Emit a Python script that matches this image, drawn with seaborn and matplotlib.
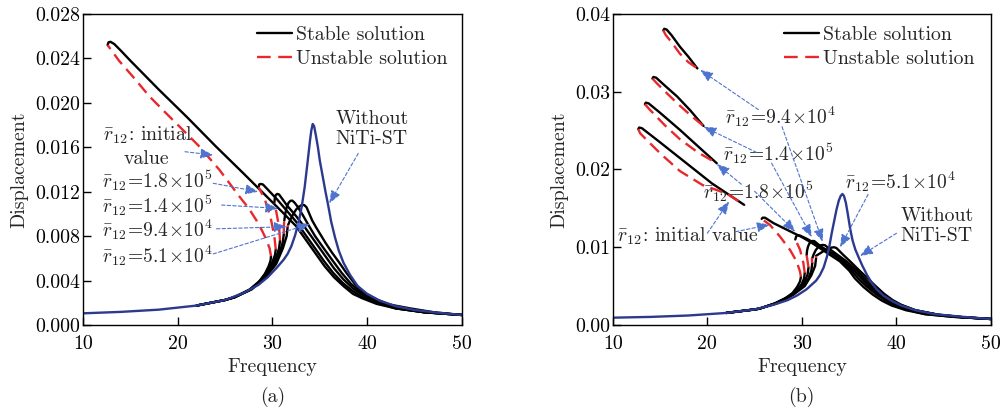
import numpy as np
import matplotlib
matplotlib.use("Agg")
import matplotlib.pyplot as plt
import seaborn as sns

# ---------------- DATA ----------------
# Panel (a)
a_blue_f = [10, 14, 18, 22, 25, 27, 28.5, 29.5, 30.5, 31.2, 31.6, 32.0, 32.4, 32.8, 33.1, 33.4, 33.7, 33.95,
            34.1, 34.25, 34.4, 34.6, 34.8, 35.0, 35.3, 35.6, 35.9, 36.2, 36.6, 37.0, 37.5, 38.2, 39.0,
            40.0, 41.3, 43, 45, 47.5, 50]
a_blue_d = [0.00105, 0.00118, 0.00138, 0.00175, 0.00225, 0.0029, 0.0036, 0.0043, 0.0052, 0.0059, 0.0064,
            0.0071, 0.0081, 0.0094, 0.0107, 0.0124, 0.0146, 0.0165, 0.0175, 0.0181, 0.0179, 0.0170,
            0.0160, 0.0148, 0.0134, 0.0120, 0.0107, 0.0093, 0.0079, 0.0067, 0.0056, 0.0045, 0.0035,
            0.0028, 0.0022, 0.0017, 0.00135, 0.0011, 0.0009]

# stable upper branches (a)
a_init_up_f = [12.6, 12.7, 12.9, 13.3, 14, 15, 18, 21, 24, 27, 29, 31, 32.5, 33.5, 34.5, 35.5, 36.5, 37.5,
               38.5, 39.5, 41, 43, 46, 50]
a_init_up_d = [0.0252, 0.02545, 0.0255, 0.0253, 0.0247, 0.0238, 0.0212, 0.0187, 0.0161, 0.0136, 0.0119,
               0.0102, 0.0089, 0.0077, 0.0065, 0.0053, 0.0043, 0.0035, 0.0028, 0.0024, 0.0019, 0.0015,
               0.00115, 0.0009]
a_18_up_f = [28.55, 28.6, 28.75, 29.0, 29.5, 30.5, 31.5, 32.5, 33.5, 34.5, 35.4, 36.4, 37.4, 38.4, 39.5,
             41, 43, 46, 50]
a_18_up_d = [0.0124, 0.01265, 0.0127, 0.01265, 0.0122, 0.0113, 0.0103, 0.0093, 0.0081, 0.0069, 0.0058,
             0.0047, 0.0038, 0.0031, 0.0025, 0.0020, 0.0015, 0.00115, 0.0009]
a_14_up_f = [30.2, 30.25, 30.35, 30.5, 30.7, 31.0, 31.5, 32.5, 33.5, 34.5, 35.5, 36.5, 37.5, 38.5, 39.5,
             41, 43, 46, 50]
a_14_up_d = [0.0110, 0.0114, 0.0117, 0.0118, 0.01175, 0.0114, 0.0108, 0.0098, 0.0087, 0.0075, 0.0063,
             0.0051, 0.0041, 0.0033, 0.0027, 0.0021, 0.0015, 0.00115, 0.0009]
a_94_up_f = [31.25, 31.35, 31.5, 31.7, 31.9, 32.1, 32.35, 32.7, 33.2, 33.8, 34.5, 35.5, 36.35, 37.3, 38.3,
             39.3, 40.5, 42, 44.5, 47, 50]
a_94_up_d = [0.0094, 0.0100, 0.0106, 0.0110, 0.01118, 0.0112, 0.0110, 0.0106, 0.0099, 0.0090, 0.0080,
             0.0068, 0.0058, 0.0047, 0.0037, 0.0030, 0.0024, 0.0019, 0.0015, 0.00115, 0.0009]
a_51_up_f = [31.65, 31.9, 32.2, 32.5, 32.8, 33.1, 33.35, 33.6, 33.85, 34.2, 34.6, 35.1, 35.6, 36.3, 36.9,
             37.8, 38.7, 39.7, 41, 43, 46, 50]
a_51_up_d = [0.0090, 0.0095, 0.0100, 0.0104, 0.01065, 0.0108, 0.0108, 0.0106, 0.0101, 0.0094, 0.0088,
             0.0081, 0.0074, 0.0065, 0.0058, 0.0047, 0.0037, 0.0029, 0.0023, 0.0016, 0.00115, 0.0009]

# stable lower branches (a)
a_init_lo_f = [22, 25, 26, 27.5, 28.5, 29.2, 29.6, 29.8, 29.85]
a_init_lo_d = [0.00175, 0.00225, 0.0025, 0.0031, 0.0038, 0.0046, 0.0053, 0.0058, 0.0062]
a_18_lo_f = [22, 25, 26, 27.6, 28.7, 29.5, 30.0, 30.27, 30.35]
a_18_lo_d = [0.00175, 0.00225, 0.0025, 0.0032, 0.0040, 0.0049, 0.0057, 0.0063, 0.0068]
a_14_lo_f = [22, 25, 26, 27.7, 28.9, 29.8, 30.4, 30.7, 30.8]
a_14_lo_d = [0.00175, 0.00225, 0.0025, 0.0032, 0.0041, 0.0051, 0.0061, 0.0069, 0.0076]
a_94_lo_f = [22, 25, 26, 27.8, 29.1, 30.1, 30.8, 31.1, 31.2]
a_94_lo_d = [0.00175, 0.00225, 0.0025, 0.0032, 0.0042, 0.0053, 0.0066, 0.0075, 0.0082]
a_51_lo_f = [22, 25, 26, 27.9, 29.3, 30.4, 31.1, 31.5, 31.6]
a_51_lo_d = [0.00175, 0.00225, 0.0025, 0.0033, 0.0043, 0.0055, 0.0069, 0.0080, 0.0088]

# unstable branches (a)
a_init_un_f = [29.85, 29.7, 29.35, 28.9, 28.29, 27.5, 26.53, 24.42, 22.31, 20.5, 18.79, 17.0, 15.28, 13.8, 12.6]
a_init_un_d = [0.0062, 0.0069, 0.0077, 0.0085, 0.00945, 0.0105, 0.01155, 0.01395, 0.01605, 0.0176, 0.01905,
               0.0206, 0.02235, 0.0238, 0.0252]
a_18_un_f = [30.35, 30.2, 29.8, 29.2, 28.55]
a_18_un_d = [0.0068, 0.0080, 0.0097, 0.0113, 0.0124]
a_14_un_f = [30.8, 30.7, 30.45, 30.2]
a_14_un_d = [0.0076, 0.0088, 0.0100, 0.0110]
a_94_un_f = [31.2, 31.2, 31.25]
a_94_un_d = [0.0082, 0.0088, 0.0094]
a_51_un_f = [31.6, 31.65]
a_51_un_d = [0.0088, 0.0090]

# Panel (b)
b_blue_f = [10, 14, 18, 22, 25, 27, 28.5, 29.5, 30.5, 31.5, 31.9, 32.3, 32.65, 32.9, 33.15, 33.4, 33.65,
            33.9, 34.1, 34.28, 34.45, 34.65, 34.85, 35.1, 35.35, 35.65, 36.0, 36.4, 36.9, 37.4, 37.9,
            38.6, 39.5, 40.5, 42, 44, 47, 50]
b_blue_d = [0.00094, 0.00104, 0.00122, 0.00155, 0.0020, 0.0026, 0.0032, 0.0038, 0.0046, 0.0057, 0.0064,
            0.0074, 0.0088, 0.0101, 0.0118, 0.0133, 0.0148, 0.0160, 0.0166, 0.01685, 0.0166, 0.0157,
            0.0143, 0.0124, 0.0109, 0.0097, 0.0087, 0.0076, 0.0064, 0.0054, 0.0046, 0.0038, 0.0031,
            0.0025, 0.0019, 0.0014, 0.00105, 0.00077]

# isolated branches (b): stable top / unstable bottom
b_iso94_st_f = [15.35, 15.45, 15.7, 16.2, 17.1, 18.0, 18.95]
b_iso94_st_d = [0.0379, 0.0381, 0.0380, 0.0373, 0.0358, 0.0345, 0.0330]
b_iso94_un_f = [15.35, 15.6, 16.2, 17.1, 18.0, 18.95]
b_iso94_un_d = [0.0379, 0.0373, 0.0364, 0.0349, 0.0338, 0.0330]
b_iso14_st_f = [14.2, 14.3, 14.6, 15.5, 16.8, 18.2, 19.6]
b_iso14_st_d = [0.0317, 0.0319, 0.0318, 0.0308, 0.0294, 0.0276, 0.0256]
b_iso14_un_f = [14.2, 14.65, 15.9, 17.1, 18.3, 19.6]
b_iso14_un_d = [0.0317, 0.0311, 0.0296, 0.0282, 0.0269, 0.0256]
b_iso18_st_f = [13.4, 13.5, 13.8, 15.0, 17.1, 19.0, 21.0]
b_iso18_st_d = [0.0284, 0.0286, 0.0285, 0.0273, 0.0251, 0.0230, 0.0208]
b_iso18_un_f = [13.4, 13.95, 15.5, 17.1, 19.0, 21.0]
b_iso18_un_d = [0.0284, 0.02765, 0.0257, 0.0239, 0.0222, 0.0208]
b_isoin_st_f = [12.7, 12.8, 13.1, 15.0, 17.8, 20.5, 23.9]
b_isoin_st_d = [0.0252, 0.0254, 0.0253, 0.0235, 0.0208, 0.0182, 0.01545]
b_isoin_un_f = [12.7, 12.9, 15.0, 17.1, 19.5, 22.05, 23.9]
b_isoin_un_d = [0.0252, 0.02465, 0.0221, 0.0198, 0.0180, 0.0169, 0.01545]

# main stable upper branches (b)
b_init_up_f = [25.75, 25.85, 26.1, 27, 28.5, 30, 31, 32, 33, 34, 35, 35.6, 36.5, 37.5, 38.5, 39.5, 41, 43, 46, 50]
b_init_up_d = [0.01365, 0.0138, 0.0138, 0.0131, 0.0122, 0.0113, 0.0106, 0.0098, 0.0090, 0.0082, 0.0070,
               0.0060, 0.0049, 0.0039, 0.0031, 0.0025, 0.0019, 0.0014, 0.00105, 0.00077]
b_18_up_f = [29.3, 29.4, 29.55, 29.8, 30.5, 31.5, 32.5, 33.5, 34.5, 35.3, 35.95, 36.8, 37.8, 38.8, 39.8,
             41, 43, 46, 50]
b_18_up_d = [0.0110, 0.0114, 0.01155, 0.0115, 0.0111, 0.0104, 0.0097, 0.0089, 0.0079, 0.0069, 0.0060,
             0.0050, 0.0040, 0.0032, 0.0026, 0.0020, 0.0014, 0.00105, 0.00077]
b_14_up_f = [30.5, 30.55, 30.65, 30.8, 31.05, 31.3, 31.6, 32.0, 32.5, 33.5, 34.5, 35.5, 36.3, 37.1, 38.1,
             39.1, 40.2, 42, 44.5, 47, 50]
b_14_up_d = [0.0090, 0.0096, 0.0101, 0.0105, 0.0108, 0.0108, 0.0105, 0.0101, 0.0097, 0.0090, 0.0081,
             0.0070, 0.0060, 0.0050, 0.0040, 0.0032, 0.0026, 0.0018, 0.0013, 0.0010, 0.00077]
b_94_up_f = [31.1, 31.25, 31.45, 31.7, 31.95, 32.2, 32.45, 32.7, 33.0, 33.8, 34.8, 35.8, 36.6, 37.4, 38.4,
             39.4, 40.4, 42, 44.5, 47, 50]
b_94_up_d = [0.0086, 0.0091, 0.0096, 0.0100, 0.01025, 0.0103, 0.01025, 0.0100, 0.0097, 0.0090, 0.0081,
             0.0070, 0.0060, 0.0050, 0.0040, 0.0032, 0.0026, 0.0019, 0.0013, 0.0010, 0.00077]
b_51_up_f = [31.5, 31.9, 32.4, 32.8, 33.1, 33.4, 33.65, 33.9, 34.3, 35.0, 36.0, 36.95, 37.8, 38.7, 39.6,
             40.5, 42, 44.5, 47, 50]
b_51_up_d = [0.0089, 0.0092, 0.0096, 0.0098, 0.00995, 0.0100, 0.0099, 0.0096, 0.0091, 0.0083, 0.0071,
             0.0060, 0.0050, 0.0040, 0.0032, 0.0026, 0.0019, 0.0013, 0.0010, 0.00077]

# main stable lower branches (b)
b_init_lo_f = [22, 25, 25.5, 27, 28.2, 29.0, 29.5, 29.8, 29.9]
b_init_lo_d = [0.00155, 0.0020, 0.0021, 0.0027, 0.0034, 0.0041, 0.0049, 0.0056, 0.0062]
b_18_lo_f = [22, 25, 25.5, 27.2, 28.5, 29.4, 30.0, 30.23, 30.3]
b_18_lo_d = [0.00155, 0.0020, 0.0021, 0.0028, 0.0036, 0.0044, 0.0053, 0.0060, 0.0067]
b_14_lo_f = [22, 25, 25.5, 27.3, 28.7, 29.7, 30.3, 30.6, 30.7]
b_14_lo_d = [0.00155, 0.0020, 0.0021, 0.0028, 0.0037, 0.0046, 0.0056, 0.0065, 0.0074]
b_94_lo_f = [22, 25, 25.5, 27.4, 28.9, 30.0, 30.7, 31.0, 31.1]
b_94_lo_d = [0.00155, 0.0020, 0.0021, 0.0028, 0.0038, 0.0048, 0.0060, 0.0070, 0.0080]
b_51_lo_f = [22, 25, 25.5, 27.5, 29.1, 30.3, 31.0, 31.4, 31.5]
b_51_lo_d = [0.00155, 0.0020, 0.0021, 0.0029, 0.0039, 0.0050, 0.0064, 0.0076, 0.0086]

# main unstable branches (b)
b_init_un_f = [29.9, 29.8, 29.45, 28.75, 27.69, 26.63, 25.75]
b_init_un_d = [0.0062, 0.00686, 0.00815, 0.00965, 0.01136, 0.01286, 0.01365]
b_18_un_f = [30.3, 30.15, 29.8, 29.3]
b_18_un_d = [0.0067, 0.0080, 0.0097, 0.0110]
b_14_un_f = [30.7, 30.6, 30.5]
b_14_un_d = [0.0074, 0.0082, 0.0090]
b_94_un_f = [31.1, 31.1]
b_94_un_d = [0.0080, 0.0086]
b_51_un_f = [31.5, 31.5]
b_51_un_d = [0.0086, 0.0089]

# tick labels
a_yticks = [0.000, 0.004, 0.008, 0.012, 0.016, 0.020, 0.024, 0.028]
b_yticks = [0.00, 0.01, 0.02, 0.03, 0.04]
xticks = [10, 20, 30, 40, 50]
legend_labels = ["Stable solution", "Unstable solution"]

# ---------------- STYLE ----------------
sns.set_theme(style="ticks")
plt.rcParams["font.family"] = ["cmr10", "DejaVu Serif"]
plt.rcParams["mathtext.fontset"] = "cm"
plt.rcParams["axes.formatter.use_mathtext"] = True
plt.rcParams["font.size"] = 14

FS = 14.3
FSL = 14.0
BLACK = "#000000"
RED = "#e8282c"
BLUE = "#2b3a8e"
ARROW = "#4f74cf"
LW = 1.7
DASH = (0, (5.2, 2.8))

fig = plt.figure(figsize=(10.02, 4.13), dpi=100)
axA = fig.add_axes([0.0828, 0.2131, 0.3782, 0.753])
axB = fig.add_axes([0.6115, 0.2131, 0.3776, 0.753])


def black(ax, f, d):
    sns.lineplot(x=f, y=d, ax=ax, color=BLACK, lw=LW, sort=False, estimator=None,
                 solid_joinstyle="round", solid_capstyle="round")


def red(ax, f, d):
    sns.lineplot(x=f, y=d, ax=ax, color=RED, lw=LW, sort=False, estimator=None, linestyle=DASH)


def blue(ax, f, d):
    sns.lineplot(x=f, y=d, ax=ax, color=BLUE, lw=LW, sort=False, estimator=None,
                 solid_joinstyle="round")


def arrow(ax, start, end):
    ax.annotate("", xy=end, xytext=start,
                arrowprops=dict(arrowstyle="-|>,head_length=0.55,head_width=0.22",
                                color=ARROW, lw=0.8, linestyle=(0, (3, 2)),
                                shrinkA=0, shrinkB=0))


def lab(val):
    return r"$\bar{r}_{12}\!=\!" + val + "$"


# ---- panel (a)
for f, d in [(a_init_lo_f, a_init_lo_d), (a_18_lo_f, a_18_lo_d), (a_14_lo_f, a_14_lo_d),
             (a_94_lo_f, a_94_lo_d), (a_51_lo_f, a_51_lo_d),
             (a_init_up_f, a_init_up_d), (a_18_up_f, a_18_up_d), (a_14_up_f, a_14_up_d),
             (a_94_up_f, a_94_up_d), (a_51_up_f, a_51_up_d)]:
    black(axA, f, d)
for f, d in [(a_init_un_f, a_init_un_d), (a_18_un_f, a_18_un_d), (a_14_un_f, a_14_un_d),
             (a_94_un_f, a_94_un_d), (a_51_un_f, a_51_un_d)]:
    red(axA, f, d)
blue(axA, a_blue_f, a_blue_d)

# ---- panel (b)
for f, d in [(b_iso94_st_f, b_iso94_st_d), (b_iso14_st_f, b_iso14_st_d), (b_iso18_st_f, b_iso18_st_d),
             (b_isoin_st_f, b_isoin_st_d),
             (b_init_lo_f, b_init_lo_d), (b_18_lo_f, b_18_lo_d), (b_14_lo_f, b_14_lo_d),
             (b_94_lo_f, b_94_lo_d), (b_51_lo_f, b_51_lo_d),
             (b_init_up_f, b_init_up_d), (b_18_up_f, b_18_up_d), (b_14_up_f, b_14_up_d),
             (b_94_up_f, b_94_up_d), (b_51_up_f, b_51_up_d)]:
    black(axB, f, d)
for f, d in [(b_iso94_un_f, b_iso94_un_d), (b_iso14_un_f, b_iso14_un_d), (b_iso18_un_f, b_iso18_un_d),
             (b_isoin_un_f, b_isoin_un_d),
             (b_init_un_f, b_init_un_d), (b_18_un_f, b_18_un_d), (b_14_un_f, b_14_un_d),
             (b_94_un_f, b_94_un_d), (b_51_un_f, b_51_un_d)]:
    red(axB, f, d)
blue(axB, b_blue_f, b_blue_d)

# ---- axes formatting
for ax, yt, ymax, fmt in [(axA, a_yticks, 0.028, "{:.3f}"), (axB, b_yticks, 0.04, "{:.2f}")]:
    ax.set_xlim(10, 50)
    ax.set_ylim(0, ymax)
    ax.set_xticks(xticks)
    ax.set_xticklabels([str(t) for t in xticks])
    ax.set_yticks(yt)
    ax.set_yticklabels([fmt.format(t) for t in yt])
    ax.tick_params(direction="in", length=6, width=1.0, top=False, right=False,
                   labelsize=FS, colors="black")
    ax.tick_params(axis="x", pad=7)
    ax.tick_params(axis="y", pad=2)
    for s in ax.spines.values():
        s.set_visible(True)
        s.set_linewidth(1.0)
        s.set_color("black")
    ax.set_xlabel("Frequency", fontsize=FS, labelpad=4)
    ax.set_ylabel("Displacement", fontsize=FS, labelpad=5)
    hs = [matplotlib.lines.Line2D([], [], color=BLACK, lw=LW),
          matplotlib.lines.Line2D([], [], color=RED, lw=LW, linestyle=(0, (5.8, 3.2)))]
    ax.legend(hs, legend_labels, frameon=False, fontsize=FS, handlelength=1.75,
              handletextpad=0.2, labelspacing=0.3, borderpad=0, borderaxespad=0,
              loc="upper left",
              bbox_to_anchor=((257.3 - 83) / 379 if ax is axA else (784 - 612.7) / 378.3, 0.962))

# ---- annotations panel (a)
axA.text(12.1, 0.0171, r"$\bar{r}_{12}$: initial", fontsize=FS, va="center", ha="left")
axA.text(16.65, 0.01495, "value", fontsize=FS, va="center", ha="center")
axA.text(11.97, 0.01300, lab(r"1.8\!\times\!10^5"), fontsize=FSL, va="center", ha="left")
axA.text(11.97, 0.01070, lab(r"1.4\!\times\!10^5"), fontsize=FSL, va="center", ha="left")
axA.text(11.97, 0.00860, lab(r"9.4\!\times\!10^4"), fontsize=FSL, va="center", ha="left")
axA.text(11.97, 0.00625, lab(r"5.1\!\times\!10^4"), fontsize=FSL, va="center", ha="left")
axA.text(40.5, 0.0176, "Without\nNiTi-ST", fontsize=FS, va="center", ha="center", linespacing=1.15)
arrow(axA, (20.77, 0.0156), (23.75, 0.0153))
arrow(axA, (23.75, 0.01276), (28.5, 0.0120))
arrow(axA, (24.64, 0.0108), (30.6, 0.0105))
arrow(axA, (24.1, 0.00866), (31.5, 0.00885))
arrow(axA, (23.75, 0.00640), (33.96, 0.0091))
arrow(axA, (39.06, 0.01545), (36.0, 0.01095))

# ---- annotations panel (b)
axB.text(21.88, 0.0268, lab(r"9.4\!\times\!10^4"), fontsize=FSL, va="center", ha="left")
axB.text(21.7, 0.0220, lab(r"1.4\!\times\!10^5"), fontsize=FSL, va="center", ha="left")
axB.text(19.59, 0.01715, lab(r"1.8\!\times\!10^5"), fontsize=FSL, va="center", ha="left")
axB.text(10.42, 0.01145, r"$\bar{r}_{12}$: initial value", fontsize=FS, va="center", ha="left")
axB.text(34.56, 0.01843, lab(r"5.1\!\times\!10^4"), fontsize=FSL, va="center", ha="left")
axB.text(44.26, 0.0127, "Without\nNiTi-ST", fontsize=FS, va="center", ha="center", linespacing=1.15)
arrow(axB, (25.4, 0.0277), (19.25, 0.0328))
arrow(axB, (27.9, 0.0255), (32.2, 0.0107))
arrow(axB, (25.2, 0.0222), (19.6, 0.0255))
arrow(axB, (26.8, 0.0208), (31.05, 0.0113))
arrow(axB, (23.6, 0.0181), (21.0, 0.0207))
arrow(axB, (25.0, 0.0172), (29.3, 0.0120))
arrow(axB, (20.0, 0.0118), (22.3, 0.0159))
arrow(axB, (23.0, 0.0120), (26.6, 0.0129))
arrow(axB, (37.0, 0.0168), (34.04, 0.0100))
arrow(axB, (40.0, 0.0118), (36.15, 0.00887))

fig.text(273 / 1002, 1 - 397 / 413, "(a)", fontsize=FS, ha="center", va="center")
fig.text(801.7 / 1002, 1 - 397 / 413, "(b)", fontsize=FS, ha="center", va="center")

fig.savefig("out.png", dpi=100)
